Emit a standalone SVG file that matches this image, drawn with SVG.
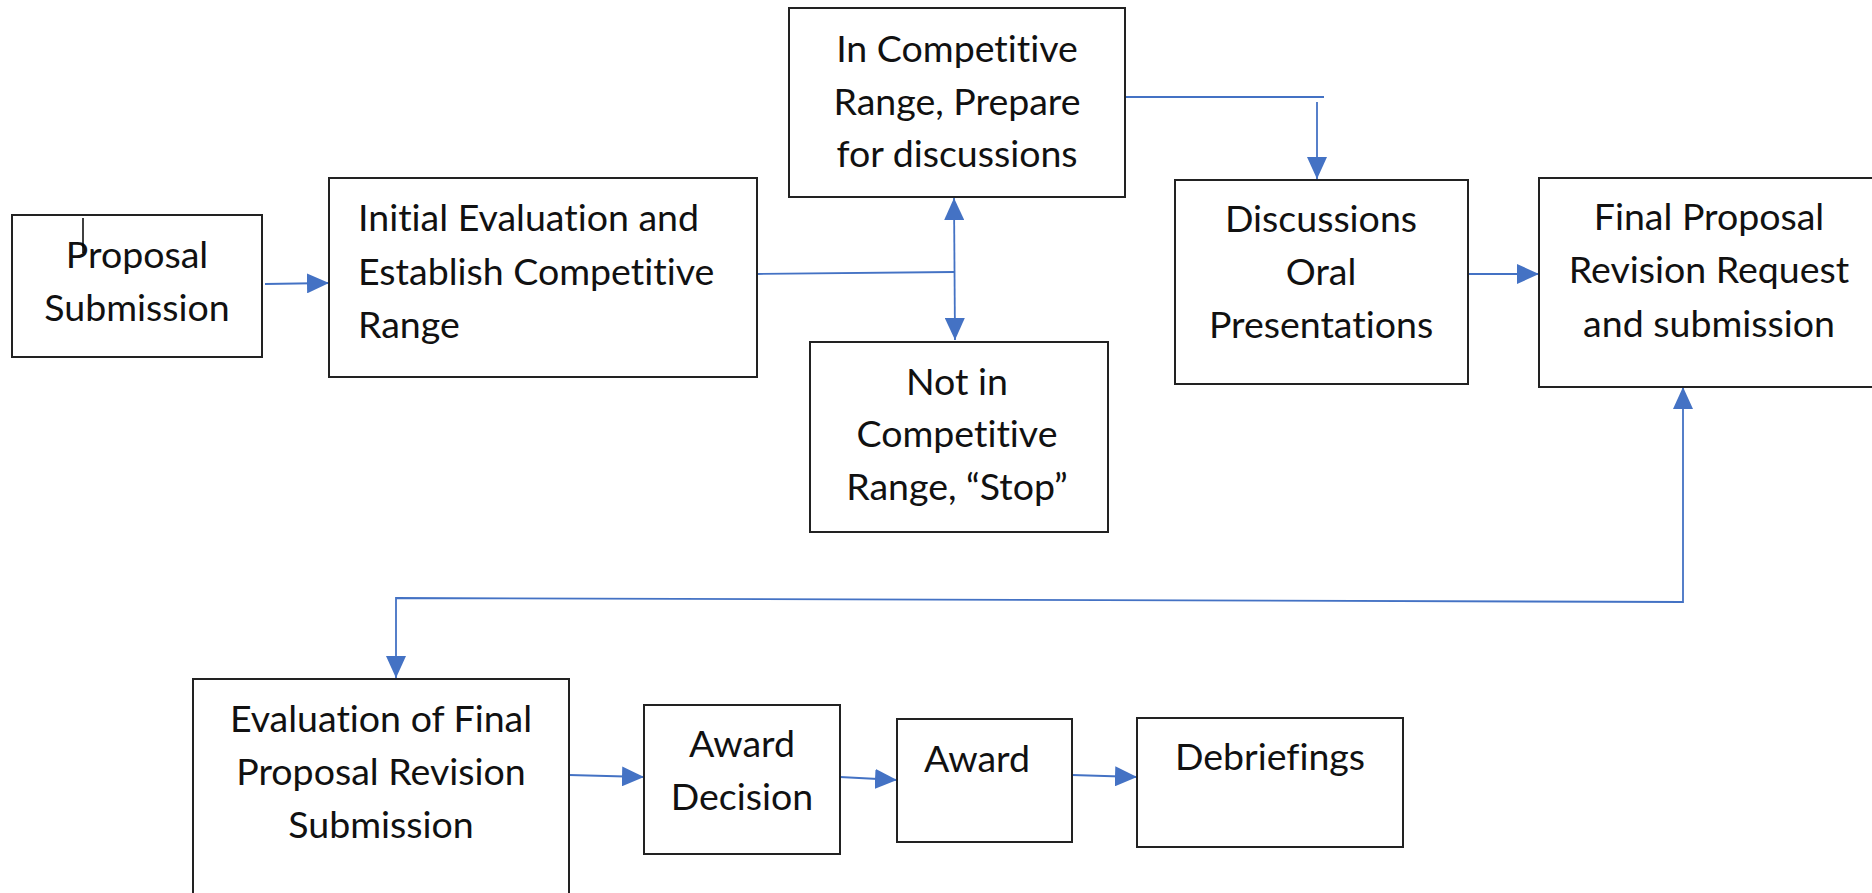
<svg xmlns="http://www.w3.org/2000/svg" width="1872" height="893" viewBox="0 0 1872 893">
<style>
.box{fill:#fff;stroke:#222;stroke-width:2}
.t{font-family:Lato,"Open Sans","Liberation Sans",sans-serif;font-size:37.5px;fill:#111;text-anchor:middle;font-variant-ligatures:none}
.tl{text-anchor:start}
.c{fill:none;stroke:#4472C4;stroke-width:1.8}
</style>
<defs>
<marker id="ah" viewBox="0 0 22 20" refX="22" refY="10" markerWidth="22" markerHeight="20" markerUnits="userSpaceOnUse" orient="auto-start-reverse">
<path d="M0,0 L22,10 L0,20 z" fill="#4472C4"/>
</marker>
</defs>
<rect width="1872" height="893" fill="#fff"/>
<g id="connectors">
<path class="c" d="M265,284 L329,283" marker-end="url(#ah)"/>
<path class="c" d="M757,274 L954,272"/>
<path class="c" d="M954,198 L955,340" marker-start="url(#ah)" marker-end="url(#ah)"/>
<path class="c" d="M1125,97 L1324,97"/>
<path class="c" d="M1317,102 L1317,179" marker-end="url(#ah)"/>
<path class="c" d="M1468,274 L1539,274" marker-end="url(#ah)"/>
<path class="c" d="M396,678 L396,598 L1683,602 L1683,387" marker-start="url(#ah)" marker-end="url(#ah)"/>
<path class="c" d="M569,775 L644,777" marker-end="url(#ah)"/>
<path class="c" d="M840,777 L897,780" marker-end="url(#ah)"/>
<path class="c" d="M1072,775 L1137,777" marker-end="url(#ah)"/>
</g>
<g id="proposal-submission">
<rect class="box" x="12" y="215" width="250" height="142"/>
<text class="t" x="137" y="268">Proposal</text>
<text class="t" x="137" y="321">Submission</text>
<line x1="83" y1="218" x2="83" y2="253" stroke="#000" stroke-width="1.5"/>
</g>
<g id="initial-evaluation">
<rect class="box" x="329" y="178" width="428" height="199"/>
<text class="t tl" x="358" y="231">Initial Evaluation and</text>
<text class="t tl" x="358" y="285">Establish Competitive</text>
<text class="t tl" x="358" y="338">Range</text>
</g>
<g id="in-competitive-range">
<rect class="box" x="789" y="8" width="336" height="189"/>
<text class="t" x="957" y="62">In Competitive</text>
<text class="t" x="957" y="115">Range, Prepare</text>
<text class="t" x="957" y="167">for discussions</text>
</g>
<g id="not-in-competitive-range">
<rect class="box" x="810" y="342" width="298" height="190"/>
<text class="t" x="957" y="395">Not in</text>
<text class="t" x="957" y="447">Competitive</text>
<text class="t" x="957" y="500">Range, “Stop”</text>
</g>
<g id="discussions">
<rect class="box" x="1175" y="180" width="293" height="204"/>
<text class="t" x="1321" y="232">Discussions</text>
<text class="t" x="1321" y="285">Oral</text>
<text class="t" x="1321" y="338">Presentations</text>
</g>
<g id="final-proposal-revision">
<rect class="box" x="1539" y="178" width="345" height="209"/>
<text class="t" x="1709" y="230">Final Proposal</text>
<text class="t" x="1709" y="283">Revision Request</text>
<text class="t" x="1709" y="337">and submission</text>
</g>
<g id="evaluation-final">
<rect class="box" x="193" y="679" width="376" height="230"/>
<text class="t" x="381" y="732">Evaluation of Final</text>
<text class="t" x="381" y="785">Proposal Revision</text>
<text class="t" x="381" y="838">Submission</text>
</g>
<g id="award-decision">
<rect class="box" x="644" y="705" width="196" height="149"/>
<text class="t" x="742" y="757">Award</text>
<text class="t" x="742" y="810">Decision</text>
</g>
<g id="award">
<rect class="box" x="897" y="719" width="175" height="123"/>
<text class="t" x="977" y="772">Award</text>
</g>
<g id="debriefings">
<rect class="box" x="1137" y="718" width="266" height="129"/>
<text class="t" x="1270" y="770">Debriefings</text>
</g>
</svg>
